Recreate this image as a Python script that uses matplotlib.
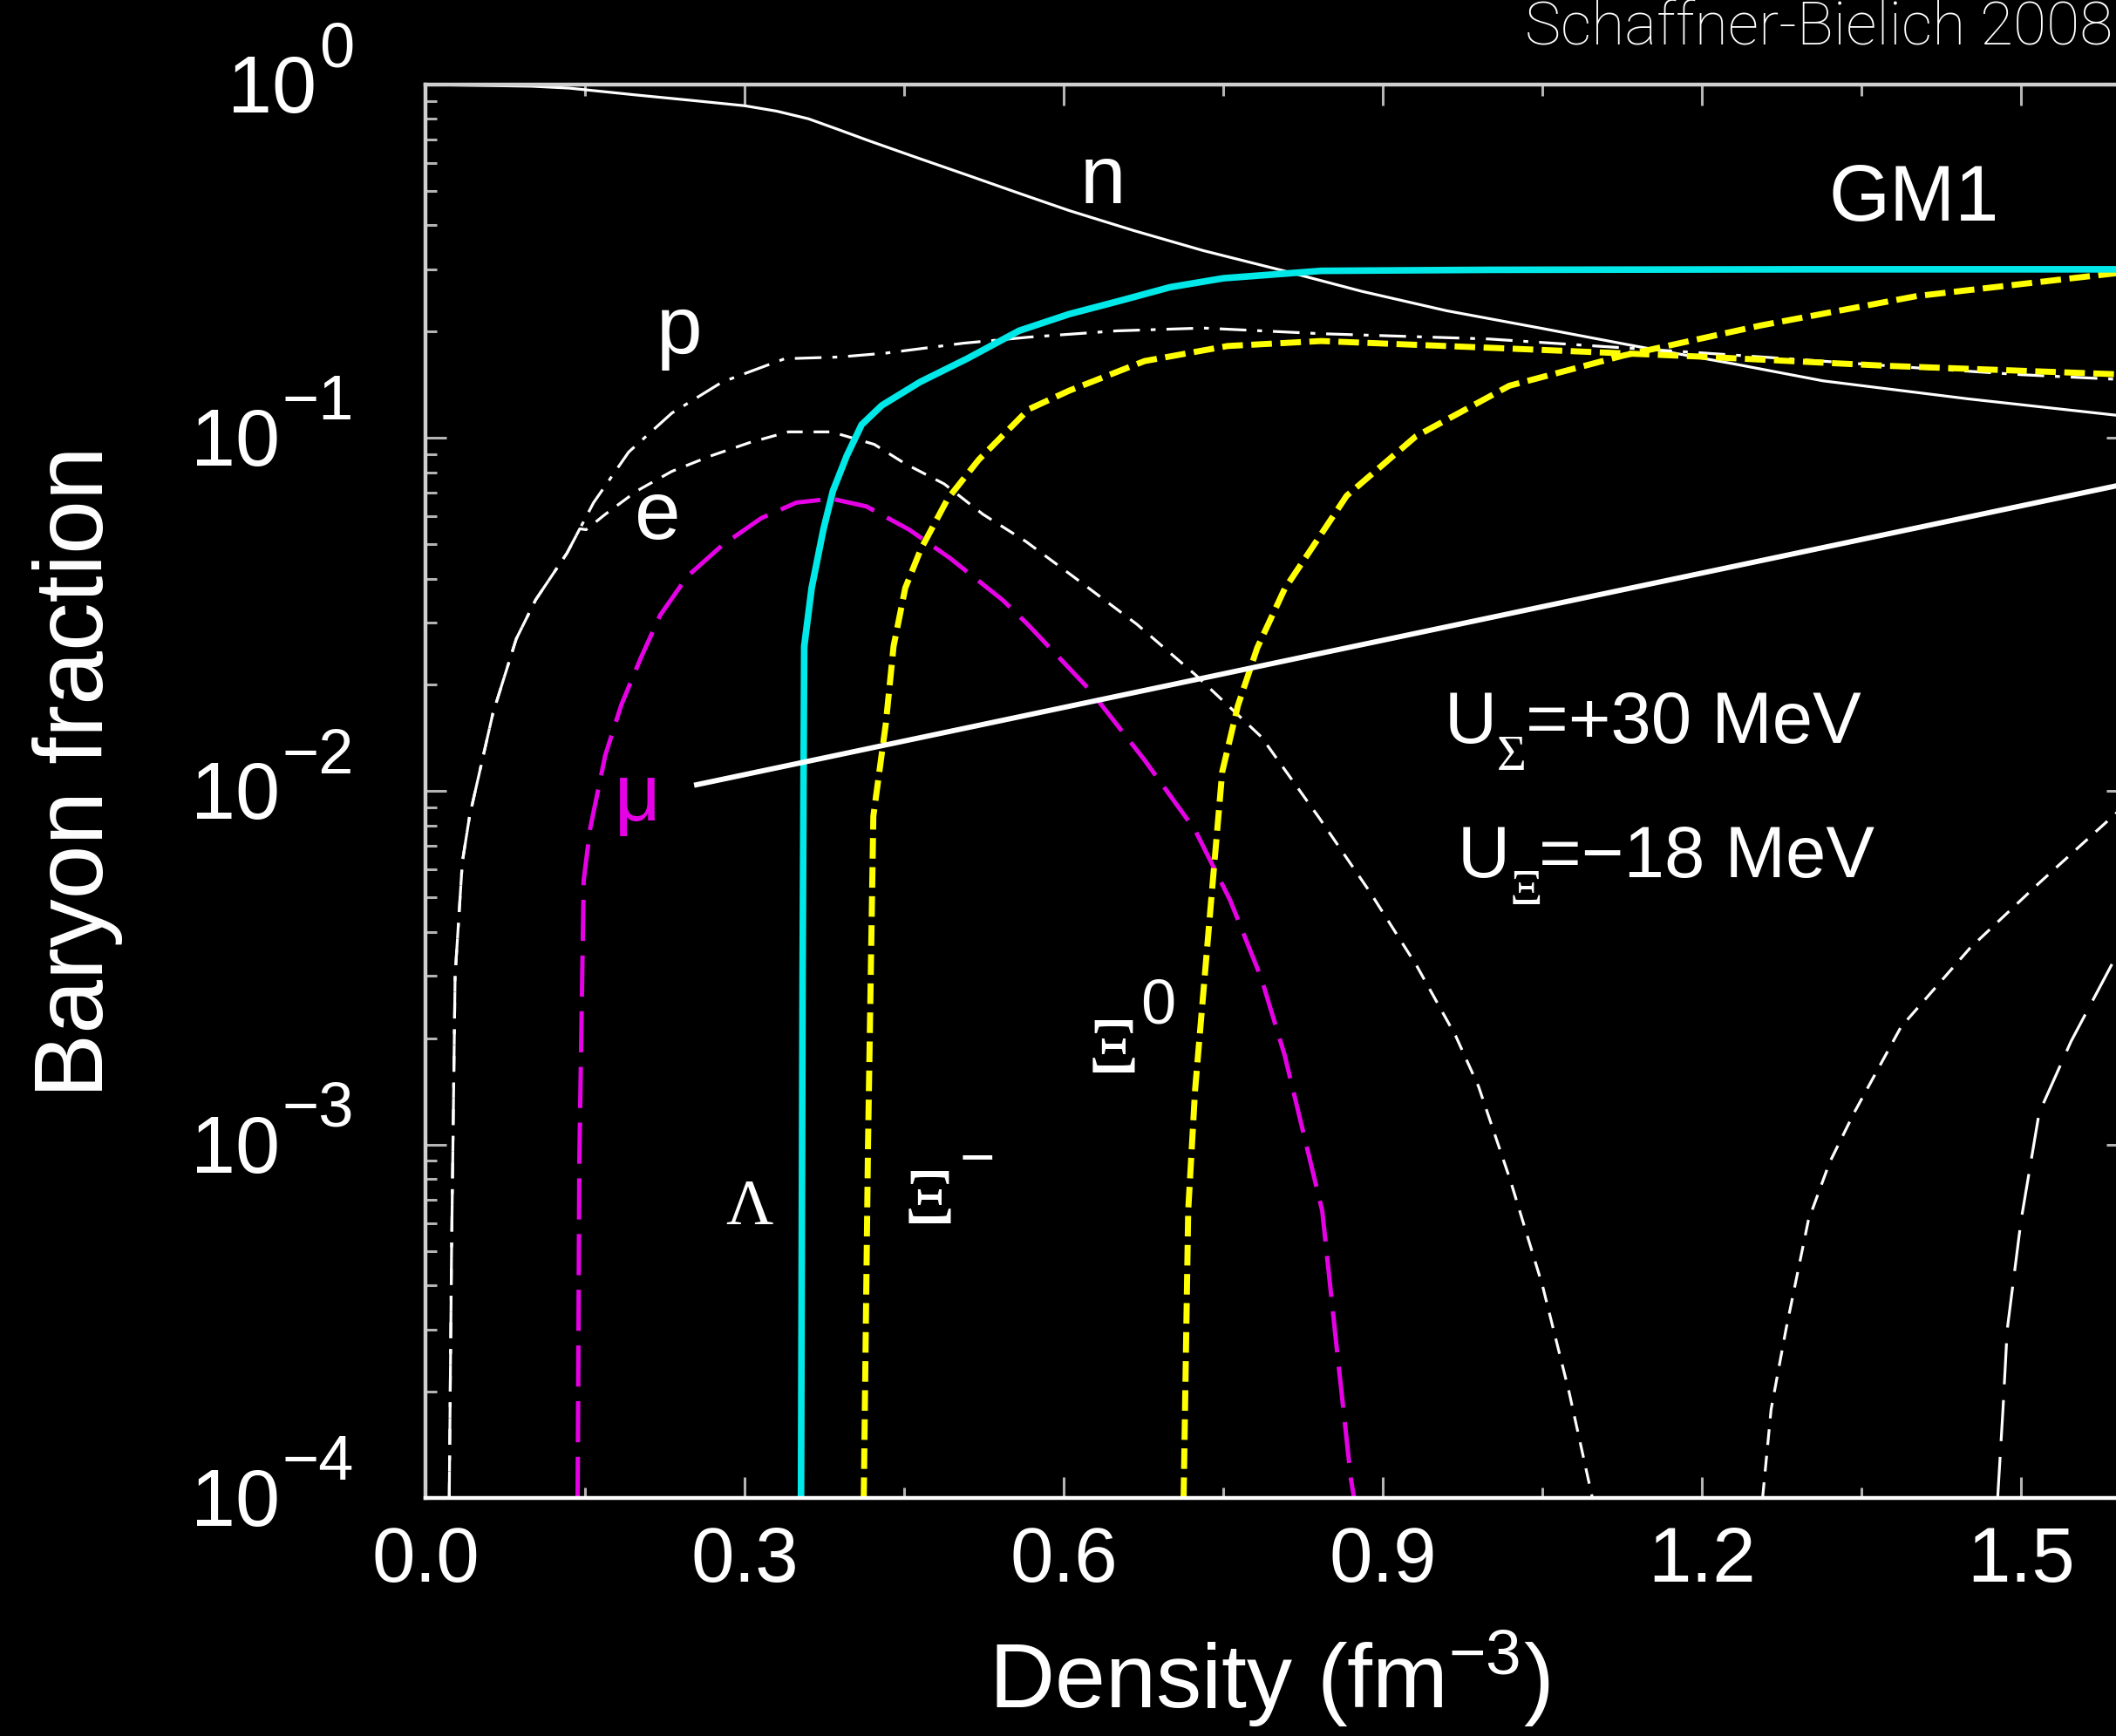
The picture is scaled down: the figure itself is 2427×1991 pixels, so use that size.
"""
Baryon fractions vs density for the GM1 parameter set (dark slide version).
"""

import matplotlib
matplotlib.use("Agg")
import matplotlib.pyplot as plt
from matplotlib.ticker import MultipleLocator, LogLocator, NullFormatter

plt.rcParams["font.family"] = ["Liberation Sans", "DejaVu Sans"]
plt.rcParams["mathtext.fontset"] = "custom"
plt.rcParams["mathtext.rm"] = "Liberation Sans"
plt.rcParams["mathtext.it"] = "Liberation Sans:italic"
plt.rcParams["lines.scale_dashes"] = False

# ---------------------------------------------------------------------------
# Curves (density in fm^-3, particle fraction)
# ---------------------------------------------------------------------------

n_x = [0.0, 0.1, 0.135, 0.2, 0.25, 0.3, 0.33, 0.36, 0.387, 0.417, 0.46, 0.511,
       0.56, 0.605, 0.666, 0.731, 0.807, 0.88, 0.96, 1.05, 1.137, 1.23, 1.314,
       1.45, 1.6]
n_y = [1.0, 0.989, 0.977, 0.933, 0.902, 0.871, 0.841, 0.800, 0.748, 0.693,
       0.624, 0.552, 0.490, 0.440, 0.386, 0.339, 0.297, 0.260, 0.229, 0.204,
       0.182, 0.162, 0.145, 0.129, 0.115]

p_x = [0.0223, 0.0244, 0.0278, 0.0346, 0.0414, 0.0633, 0.0853, 0.1035, 0.133,
       0.158, 0.191, 0.2315, 0.279, 0.3376, 0.389, 0.433, 0.506, 0.567, 0.65,
       0.731, 0.842, 1.0, 1.1, 1.2, 1.3, 1.4, 1.5, 1.6]
p_y = [1.0e-4, 4.8e-4, 3.0e-3, 6.3e-3, 8.5e-3, 0.0166, 0.0270, 0.0348, 0.0472,
       0.0656, 0.0912, 0.1175, 0.144, 0.1675, 0.1694, 0.1738, 0.1854, 0.1928,
       0.2009, 0.2046, 0.1972, 0.1905, 0.182, 0.174, 0.166, 0.158, 0.151,
       0.146]

e_x = [0.0223, 0.0244, 0.0278, 0.0346, 0.0414, 0.0633, 0.0853, 0.1035, 0.133,
       0.145, 0.151, 0.169, 0.1987, 0.2315, 0.268, 0.3047, 0.341, 0.3816,
       0.4218, 0.451, 0.4876, 0.524, 0.5645, 0.61, 0.6687, 0.7235, 0.7857,
       0.8405, 0.888, 0.932, 0.9685, 0.99, 1.02, 1.05, 1.075, 1.097]
e_y = [1.0e-4, 4.8e-4, 3.0e-3, 6.3e-3, 8.5e-3, 0.0166, 0.0270, 0.0348, 0.0472,
       0.0553, 0.055, 0.0608, 0.0708, 0.0804, 0.0889, 0.097, 0.104, 0.104,
       0.0959, 0.0845, 0.0741, 0.0608, 0.0509, 0.0403, 0.0297, 0.0214,
       0.01426, 0.00838, 0.00518, 0.0032, 0.00203, 0.00146, 0.00079, 0.0004,
       0.0002, 1.0e-4]

mu_x = [0.143, 0.1446, 0.1487, 0.1548, 0.169, 0.184, 0.2023, 0.2206, 0.2462,
        0.279, 0.3157, 0.3486, 0.3816, 0.4144, 0.4547, 0.493, 0.5424, 0.566,
        0.6248, 0.676, 0.7235, 0.7564, 0.7857, 0.8077, 0.843, 0.857, 0.870,
        0.873]
mu_y = [1.0e-4, 8.9e-4, 5.6e-3, 7.85e-3, 0.01265, 0.01754, 0.0238, 0.0315,
        0.0406, 0.0497, 0.0593, 0.0656, 0.0673, 0.064, 0.055, 0.0457, 0.0348,
        0.0297, 0.0193, 0.01225, 0.00776, 0.00492, 0.00296, 0.00179, 0.00065,
        0.00026, 0.000113, 1.0e-4]

lam_x = [0.353, 0.3545, 0.356, 0.363, 0.374, 0.383, 0.396, 0.410, 0.429,
         0.465, 0.509, 0.558, 0.605, 0.652, 0.70, 0.75, 0.842, 1.0, 1.3, 1.6]
lam_y = [1.0e-4, 0.003, 0.0257, 0.0376, 0.055, 0.0708, 0.089, 0.109, 0.1236,
         0.144, 0.1675, 0.201, 0.224, 0.244, 0.267, 0.283, 0.297, 0.299, 0.30,
         0.30]

xim_x = [0.412, 0.416, 0.421, 0.4327, 0.440, 0.451, 0.4656, 0.491, 0.520,
         0.567, 0.605, 0.676, 0.754, 0.842, 1.019, 1.196, 1.373, 1.6]
xim_y = [1.0e-4, 1.0e-3, 0.0085, 0.0155, 0.0257, 0.0376, 0.0484, 0.0673,
         0.0867, 0.1205, 0.136, 0.165, 0.182, 0.188, 0.179, 0.170, 0.160,
         0.151]

xi0_x = [0.7127, 0.717, 0.7235, 0.738, 0.749, 0.7637, 0.782, 0.8077, 0.837,
         0.866, 0.931, 1.019, 1.126, 1.255, 1.402, 1.6]
xi0_y = [1.0e-4, 6.5e-4, 0.00143, 0.00468, 0.01135, 0.01746, 0.0255, 0.0374,
         0.0507, 0.0686, 0.101, 0.1405, 0.171, 0.208, 0.252, 0.295]

h1_x = [1.257, 1.265, 1.279, 1.30, 1.32, 1.343, 1.387, 1.452, 1.517, 1.59,
        1.62]
h1_y = [1.0e-4, 1.78e-4, 3.0e-4, 6.1e-4, 8.9e-4, 1.23e-3, 2.15e-3, 3.6e-3,
        5.5e-3, 8.7e-3, 0.0105]

h2_x = [1.478, 1.483, 1.487, 1.50, 1.517, 1.547, 1.59, 1.62]
h2_y = [1.0e-4, 1.78e-4, 3.0e-4, 6.1e-4, 1.23e-3, 1.96e-3, 3.44e-3, 4.5e-3]

# white pointer line from the muon label
pointer_x = [0.2525, 1.6]
pointer_y = [0.0104, 0.0743]

x_ticks = [0.0, 0.3, 0.6, 0.9, 1.2, 1.5]
y_exps = [0, -1, -2, -3, -4]

# ---------------------------------------------------------------------------
# Plot
# ---------------------------------------------------------------------------

fig = plt.figure(figsize=(24.27, 19.91), dpi=100)
fig.patch.set_facecolor("black")
ax = fig.add_axes([0.2011, 0.1371, 0.8043, 0.8142])
ax.set_facecolor("black")

ax.plot(n_x, n_y, color="white", lw=2.3)
ax.plot(p_x, p_y, color="white", lw=2.3, dashes=(22, 9, 4, 9))
ax.plot(e_x, e_y, color="white", lw=2.3, dashes=(13, 9))
ax.plot(h1_x, h1_y, color="white", lw=2.3, dashes=(13, 9))
ax.plot(h2_x, h2_y, color="white", lw=2.3, dashes=(34, 13))
ax.plot(mu_x, mu_y, color="#e600e6", lw=3.6, dashes=(34, 12))
ax.plot(xim_x, xim_y, color="#ffff00", lw=5, dashes=(17, 7))
ax.plot(xi0_x, xi0_y, color="#ffff00", lw=5, dashes=(17, 7))
ax.plot(lam_x, lam_y, color="#00e8e8", lw=5.5)
ax.plot(pointer_x, pointer_y, color="white", lw=4.3, solid_capstyle="butt")

ax.set_yscale("log")
ax.set_xlim(0, 1.6)
ax.set_ylim(1e-4, 1)

ax.xaxis.set_minor_locator(MultipleLocator(0.15))
ax.set_xticks(x_ticks)
ax.set_xticklabels([f"{t:.1f}" for t in x_ticks])
ax.yaxis.set_major_locator(LogLocator(base=10, numticks=10))
ax.yaxis.set_minor_locator(LogLocator(base=10, subs=range(2, 10), numticks=20))
ax.yaxis.set_minor_formatter(NullFormatter())

ax.tick_params(which="both", direction="in", top=True, right=True,
               color="#b4b4b4", width=2.2, labelcolor="white", labelsize=64)
ax.tick_params(which="major", length=17)
ax.tick_params(which="minor", length=9)
ax.tick_params(axis="x", pad=22)
ax.tick_params(axis="y", labelleft=False)

for side in ["top", "left", "right"]:
    ax.spines[side].set_color("#cfcfcf")
    ax.spines[side].set_linewidth(3.2)
ax.spines["bottom"].set_color("white")
ax.spines["bottom"].set_linewidth(3.2)

# y tick labels: "10" with a large raised exponent, as in the original
ytrans = ax.get_yaxis_transform()
exp_texts = []
for k in y_exps:
    t = ax.annotate(str(k).replace("-", "\u2212"), (0, 10.0 ** k),
                    xycoords=ytrans, xytext=(-59, 15),
                    textcoords="offset points", ha="right", va="baseline",
                    fontsize=52, color="white")
    exp_texts.append(t)
fig.canvas.draw()
renderer = fig.canvas.get_renderer()
spine_px = ax.transAxes.transform((0, 0))[0]
for k, t in zip(y_exps, exp_texts):
    left_pt = (t.get_window_extent(renderer).x0 - spine_px) * 72 / fig.dpi
    ax.annotate("10", (0, 10.0 ** k), xycoords=ytrans,
                xytext=(left_pt - 2, -23), textcoords="offset points",
                ha="right", va="baseline", fontsize=66, color="white")

ax.set_xlabel("Density (fm$^{\u22123}$)", fontsize=75, color="white")
ax.xaxis.set_label_coords(0.4956, -0.092)
ax.set_ylabel("Baryon fraction", fontsize=80, color="white")
ax.yaxis.set_label_coords(-0.178, 0.514)

# curve labels
lab = dict(color="white", ha="center", va="center")
ax.text(0.637, 0.53, "n", fontsize=68, **lab)
ax.text(1.399, 0.47, "GM1", fontsize=65, **lab)
ax.text(0.2385, 0.2, "p", fontsize=68, **lab)
ax.text(0.218, 0.0596, "e", fontsize=68, **lab)
ax.text(0.199, 0.0095, "μ", fontsize=66, color="#e600e6", ha="center",
        va="center")
ax.text(0.3045, 6.6e-4, "Λ", fontsize=54, family="Liberation Serif", **lab)
ax.text(0.474, 6.8e-4, "Ξ", fontsize=66, family="Liberation Serif", **lab)
ax.text(0.519, 9.0e-4, "\u2212", fontsize=50, **lab)
ax.text(0.6466, 1.82e-3, "Ξ", fontsize=66, family="Liberation Serif", **lab)
ax.text(0.6886, 2.45e-3, "0", fontsize=52, **lab)

# potential depths, built from pieces so the subscripts stay serif
for (x0, y0, sub, rest) in [(0.958, 0.0137, "Σ", "=+30 MeV"),
                            (0.970, 0.0057, "Ξ", "=\u221218 MeV")]:
    ax.annotate("U", (x0, y0), color="white", fontsize=60, ha="left",
                va="baseline")
    ax.annotate(sub, (x0, y0), xytext=(43, -22), textcoords="offset points",
                color="white", fontsize=42, family="Liberation Serif",
                ha="left", va="baseline")
    ax.annotate(rest, (x0, y0), xytext=(67, 0), textcoords="offset points",
                color="white", fontsize=60, ha="left", va="baseline")

# credit line; the original crops its last digit, kept just inside here
fig.text(0.9985, 0.9744, "Schaffner-Bielich 2008", fontsize=50,
         fontweight="light", family=["Roboto", "Lato", "Liberation Sans"],
         color="white", ha="right", va="baseline")

plt.savefig("out.png", dpi=100, facecolor="black")
plt.close()
